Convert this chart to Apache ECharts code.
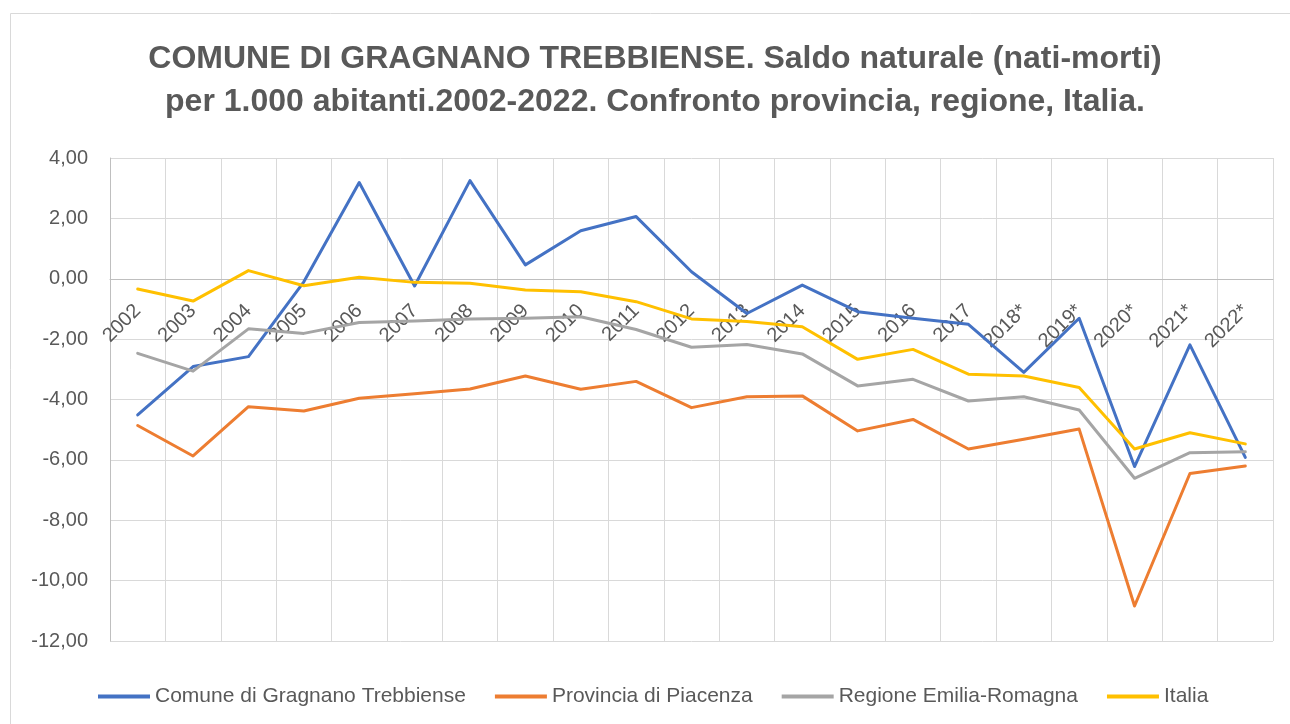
<!DOCTYPE html>
<html>
<head>
<meta charset="utf-8">
<script src="https://cdn.jsdelivr.net/npm/echarts@6/dist/echarts.min.js"></script>
<style>html,body{margin:0;padding:0;background:#fff;}#c{width:1290px;height:724px;}</style>
</head>
<body>
<div id="c"></div>
<script>
const titleText = 'COMUNE DI GRAGNANO TREBBIENSE. Saldo naturale (nati-morti)\nper 1.000 abitanti.2002-2022. Confronto provincia, regione, Italia.';
const years = ['2002','2003','2004','2005','2006','2007','2008','2009','2010','2011','2012','2013','2014','2015','2016','2017','2018*','2019*','2020*','2021*','2022*'];
const seriesNames = ['Comune di Gragnano Trebbiense','Provincia di Piacenza','Regione Emilia-Romagna','Italia'];
const comune    = [-4.51,-2.91,-2.58,-0.10,3.19,-0.24,3.25,0.46,1.59,2.06,0.23,-1.15,-0.21,-1.09,-1.31,-1.51,-3.10,-1.31,-6.22,-2.19,-5.92];
const provincia = [-4.86,-5.87,-4.24,-4.38,-3.96,-3.81,-3.65,-3.22,-3.66,-3.40,-4.27,-3.91,-3.88,-5.04,-4.66,-5.64,-5.32,-4.98,-10.84,-6.45,-6.20];
const regione   = [-2.47,-3.06,-1.66,-1.81,-1.45,-1.40,-1.33,-1.31,-1.26,-1.68,-2.27,-2.18,-2.49,-3.55,-3.33,-4.05,-3.91,-4.35,-6.61,-5.76,-5.73];
const italia    = [-0.34,-0.74,0.27,-0.23,0.05,-0.12,-0.15,-0.37,-0.43,-0.76,-1.33,-1.42,-1.59,-2.67,-2.34,-3.16,-3.22,-3.60,-5.64,-5.10,-5.47];
const colors = ['#4472C4','#ED7D31','#A5A5A5','#FFC000'];
const yMin = -12, yMax = 4, yStep = 2;

const font = '"Liberation Sans", Arial, sans-serif';
const gridTop = 158, gridBottom = 83, H = 724;
const gridHeight = H - gridTop - gridBottom;
// place category axis where the value axis crosses zero
const zeroOffset = -gridHeight * (0 - yMin) / (yMax - yMin);

const chart = echarts.init(document.getElementById('c'), null, {renderer:'canvas'});
const dataSets = [comune, provincia, regione, italia];
chart.setOption({
  animation: false,
  color: colors,
  graphic: [{
    type: 'rect', shape: {x: 10.5, y: 13.5, width: 1300, height: 730},
    style: {fill: 'none', stroke: '#d9d9d9', lineWidth: 1}, z: -10, silent: true
  }, {
    type: 'text', x: 655, y: 38,
    style: {text: titleText, fontFamily: font, fontWeight: 'bold', fontSize: 32, lineHeight: 43,
      fill: '#595959', align: 'center', verticalAlign: 'top'}
  }],
  legend: {
    left: 93, top: 681,
    icon: 'rect', itemWidth: 52, itemHeight: 4, itemGap: 29,
    textStyle: {fontFamily: font, fontSize: 21, color: '#595959'},
    data: seriesNames
  },
  grid: {left: 110, right: 17, top: gridTop, bottom: gridBottom, containLabel: false},
  xAxis: {
    type: 'category',
    data: years,
    boundaryGap: true,
    position: 'bottom',
    offset: zeroOffset,
    axisLine: {onZero: false, lineStyle: {color: '#bfbfbf', width: 1}},
    axisTick: {show: false},
    splitLine: {show: true, interval: 0, lineStyle: {color: '#d9d9d9', width: 1}},
    axisLabel: {interval: 0, rotate: 45, margin: 29, fontFamily: font, fontSize: 20, color: '#595959'}
  },
  yAxis: {
    type: 'value',
    min: yMin, max: yMax, interval: yStep,
    axisLine: {show: true, lineStyle: {color: '#bfbfbf', width: 1}},
    axisTick: {show: false},
    splitLine: {show: true, lineStyle: {color: '#d9d9d9', width: 1}},
    axisLabel: {margin: 22, fontFamily: font, fontSize: 20, color: '#595959',
      formatter: v => v.toFixed(2).replace('.', ',')}
  },
  series: dataSets.map((d, i) => ({
    name: seriesNames[i],
    type: 'line',
    data: d,
    symbol: 'none',
    lineStyle: {width: 3, color: colors[i], cap: 'round', join: 'round'},
    z: 2 + i
  }))
});
</script>
</body>
</html>
